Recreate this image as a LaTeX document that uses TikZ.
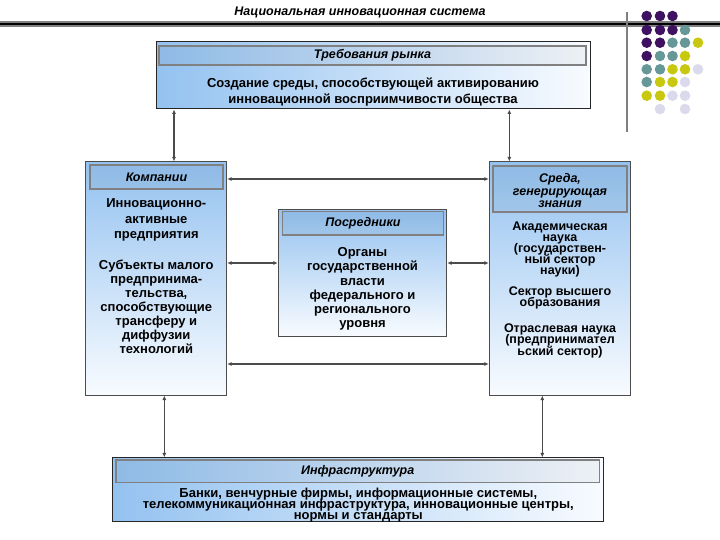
\documentclass[tikz,border=0pt]{standalone}
\usepackage{fontspec}
\setmainfont{Liberation Sans}
\usetikzlibrary{arrows.meta}

\definecolor{boxblue}{RGB}{148,194,240}
\definecolor{boxwhite}{RGB}{248,251,255}
\definecolor{dpurple}{RGB}{62,18,96}
\definecolor{dteal}{RGB}{102,152,152}
\definecolor{dyellow}{RGB}{200,200,16}
\definecolor{dlav}{RGB}{218,218,236}
\definecolor{arrowgray}{RGB}{75,75,75}

\newcommand{\bodyfont}[1]{\bfseries\fontsize{13}{#1}\selectfont\lineskiplimit=-50pt\relax}
\newcommand{\smallbodyfont}[1]{\bfseries\fontsize{12.5}{#1}\selectfont\lineskiplimit=-50pt\relax}
\newcommand{\hdrfont}{\bfseries\itshape\fontsize{12.5}{12.5}\selectfont\lineskiplimit=-50pt\relax}

\tikzset{
 hbox/.style={draw=black!85, line width=1pt, left color=boxblue, right color=boxwhite, inner sep=0pt},
 vbox/.style={draw=black!70, line width=1pt, top color=boxblue, bottom color=boxwhite, inner sep=0pt},
 hdr/.style={draw=black!50, line width=1.2pt, fill=black, fill opacity=0.04, text opacity=1, inner sep=0pt, align=center},
 hdrtext/.style={font=\hdrfont, align=center, inner sep=0pt},
 body/.style={align=center, inner sep=0pt},
 link/.style={draw=arrowgray, line width=1.6pt, {Latex[length=4.5pt,width=4pt]}-{Latex[length=4.5pt,width=4pt]}},
}

\begin{document}
\begin{tikzpicture}[x=1pt,y=-1pt]
\useasboundingbox (0,0) rectangle (720,540);

% title and rules
\node[font=\bfseries\itshape\fontsize{12.5}{14}\selectfont] (title) at (360,12.5) {Национальная инновационная система};
\draw[gray, line width=5.5pt] (0,24) -- (720,24);
\draw[black, line width=2.2pt] (0,24) -- (720,24);
\draw[gray, line width=1.6pt] (627,12) -- (627,132);

% dots
\foreach \x/\y/\c in {
 646.7/16/dpurple, 660/16/dpurple, 672.5/16/dpurple,
 646.7/30/dpurple, 660/30/dpurple, 672.5/30/dpurple, 685/30/dteal,
 646.7/42.7/dpurple, 660/42.7/dpurple, 672.5/42.7/dteal, 685/42.7/dteal, 698/42.7/dyellow,
 646.7/56/dpurple, 660/56/dteal, 672.5/56/dteal, 685/56/dyellow,
 646.7/69.3/dteal, 660/69.3/dteal, 672.5/69.3/dyellow, 685/69.3/dyellow, 698/69.3/dlav,
 646.7/82/dteal, 660/82/dyellow, 672.5/82/dyellow, 685/82/dlav,
 646.7/95.7/dyellow, 660/95.7/dyellow, 672.5/95.7/dlav, 685/95.7/dlav,
 660/109/dlav, 685/109/dlav}
 {\fill[\c] (\x,\y) circle[radius=5.3pt];}

% top box
\node[hbox, minimum width=434pt, minimum height=67.3pt] (market) at (373,75.3) {};
\node[hdr, minimum width=427pt, minimum height=19pt] (marketh) at (372.5,55.5) {};
\node[hdrtext] (markett) at (372.5,55.5) {Требования рынка};
\node[body, font=\bodyfont{15.6}] (marketb) at (373,92) {Создание среды, способствующей активированию\\инновационной восприимчивости общества};

% companies
\node[vbox, minimum width=140.7pt, minimum height=233pt] (komp) at (156.3,278.5) {};
\node[hdr, minimum width=133pt, minimum height=24pt] (komph) at (156.5,177) {};
\node[hdrtext] (kompt) at (156.5,177) {Компании};
\node[body, font=\bodyfont{15.5}] (kompb1) at (156.3,220) {Инновационно-\\активные\\предприятия};
\node[body, font=\bodyfont{14}] (kompb2) at (156.3,307) {Субъекты малого\\предпринима-\\тельства,\\способствующие\\трансферу и\\диффузии\\технологий};

% knowledge environment
\node[vbox, minimum width=140.7pt, minimum height=233pt] (sreda) at (559.7,278.5) {};
\node[hdr, minimum width=134pt, minimum height=46pt] (sredah) at (560,189) {};
\node[hdrtext] (sredat) at (560,191) {Среда,\\генерирующая\\знания};
\node[body, font=\smallbodyfont{10.8}] (sredab1) at (560,249.5) {Академическая\\наука\\(государствен-\\ный сектор\\науки)};
\node[body, font=\smallbodyfont{11}] (sredab2) at (560,298) {Сектор высшего\\образования};
\node[body, font=\smallbodyfont{11.5}] (sredab3) at (560,340.5) {Отраслевая наука\\(предпринимател\\ьский сектор)};

% intermediaries
\node[vbox, minimum width=168.4pt, minimum height=126.7pt] (posr) at (362.5,272.7) {};
\node[hdr, minimum width=160.6pt, minimum height=23.3pt] (posrh) at (363,223.3) {};
\node[hdrtext] (posrt) at (363,223.3) {Посредники};
\node[body, font=\bodyfont{14.3}] (posrb) at (362.5,289) {Органы\\государственной\\власти\\федерального и\\регионального\\уровня};

% infrastructure
\node[hbox, minimum width=491.3pt, minimum height=63.7pt] (infra) at (358.3,489.8) {};
\node[hdr, minimum width=483.3pt, minimum height=22.7pt] (infrah) at (357.7,471.3) {};
\node[hdrtext] (infrat) at (357.7,471.3) {Инфраструктура};
\node[body, font=\bodyfont{11}] (infrab) at (358.3,505) {Банки, венчурные фирмы, информационные системы,\\телекоммуникационная инфраструктура, инновационные центры,\\нормы и стандарты};

% connectors
\coordinate (vl1) at (174,0);
\coordinate (vr1) at (509.3,0);
\coordinate (vl2) at (164.3,0);
\coordinate (vr2) at (542.3,0);
\coordinate (h1) at (0,179);
\coordinate (h2) at (0,263);
\coordinate (h3) at (0,364);
\draw[link] (market.south -| vl1) -- (komp.north -| vl1);
\draw[link] (market.south -| vr1) -- (sreda.north -| vr1);
\draw[link] (komp.east |- h1) -- (sreda.west |- h1);
\draw[link] (komp.east |- h2) -- (posr.west |- h2);
\draw[link] (posr.east |- h2) -- (sreda.west |- h2);
\draw[link] (komp.east |- h3) -- (sreda.west |- h3);
\draw[link] (komp.south -| vl2) -- (infra.north -| vl2);
\draw[link] (sreda.south -| vr2) -- (infra.north -| vr2);
\end{tikzpicture}
\end{document}
